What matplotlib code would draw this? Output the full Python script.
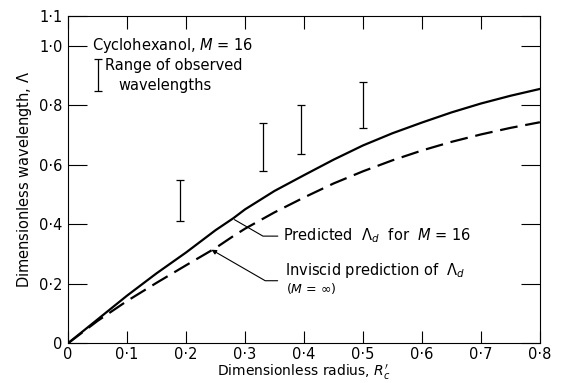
import numpy as np
import matplotlib.pyplot as plt

# values
r_curve = [0, 0.05, 0.1, 0.15, 0.2, 0.25, 0.28, 0.3, 0.35, 0.4, 0.45, 0.5,
           0.55, 0.6, 0.65, 0.7, 0.75, 0.8]
lam_pred = [0, 0.08, 0.16, 0.235, 0.305, 0.38, 0.42, 0.45, 0.512, 0.565, 0.617,
            0.665, 0.706, 0.742, 0.776, 0.806, 0.832, 0.855]
lam_invisc = [0, 0.075, 0.142, 0.203, 0.262, 0.32, 0.36, 0.385, 0.44, 0.49, 0.537,
              0.578, 0.615, 0.648, 0.677, 0.702, 0.724, 0.743]

r_obs = [0.19, 0.33, 0.395, 0.50]
lam_lo = [0.41, 0.578, 0.635, 0.723]
lam_hi = [0.548, 0.74, 0.80, 0.877]

xticks = [0, 0.1, 0.2, 0.3, 0.4, 0.5, 0.6, 0.7, 0.8]
xlabels = ['0', '0·1', '0·2', '0·3', '0·4', '0·5', '0·6', '0·7', '0·8']
yticks = [0, 0.2, 0.4, 0.6, 0.8, 1.0, 1.1]
ylabels = ['0', '0·2', '0·4', '0·6', '0·8', '1·0', '1·1']

plt.rcParams['font.family'] = 'DejaVu Sans'
plt.rcParams['mathtext.fontset'] = 'dejavusans'

fig = plt.figure(figsize=(5.63, 3.83), dpi=100)
ax = fig.add_axes([0.121, 0.104, 0.838, 0.854])

ax.plot(r_curve, lam_pred, color='black', lw=1.6)
ax.plot(r_curve, lam_invisc, color='black', lw=1.6, dashes=(8, 3.5))

mid = [(a + b) / 2 for a, b in zip(lam_lo, lam_hi)]
half = [(b - a) / 2 for a, b in zip(lam_lo, lam_hi)]
ax.errorbar(r_obs, mid, yerr=half, fmt='none', ecolor='black',
            elinewidth=0.9, capsize=3, capthick=0.9)

# legend-like error bar
ax.errorbar([0.05], [0.901], yerr=[0.054], fmt='none', ecolor='black',
            elinewidth=0.9, capsize=3, capthick=0.9)

ax.text(0.04, 1.0, r'Cyclohexanol, $M$ = 16', fontsize=10.5, va='center')
ax.text(0.062, 0.934, 'Range of observed', fontsize=10.5, va='center')
ax.text(0.085, 0.866, 'wavelengths', fontsize=10.5, va='center')

ax.annotate(r'Predicted  $\Lambda_d$  for  $M$ = 16', xy=(0.278, 0.42),
            xytext=(0.365, 0.36), fontsize=10.5, va='center',
            arrowprops=dict(arrowstyle='-', color='black', lw=0.8,
                            connectionstyle='angle,angleA=0,angleB=-30,rad=0'))
ax.text(0.368, 0.245, r'Inviscid prediction of  $\Lambda_d$', fontsize=10.5, va='center')
ax.annotate('', xy=(0.239, 0.319), xytext=(0.36, 0.21),
            arrowprops=dict(arrowstyle='-|>', color='black', lw=0.8, mutation_scale=7,
                            connectionstyle='angle,angleA=0,angleB=-30,rad=0'))
ax.text(0.37, 0.185, r'($M$ = $\infty$)', fontsize=9, va='center')

ax.set_xlim(0, 0.8)
ax.set_ylim(0, 1.1)
ax.set_xticks(xticks)
ax.set_xticklabels(xlabels, fontsize=10.5)
ax.set_yticks(yticks)
ax.set_yticklabels(ylabels, fontsize=10.5)
ax.tick_params(axis='x', direction='in', length=9, width=0.8, top=True, pad=3)
ax.tick_params(axis='y', direction='in', length=14, width=0.8, right=True, pad=4)
for sp in ax.spines.values():
    sp.set_linewidth(0.8)

ax.set_xlabel(r"Dimensionless radius, $R_c'$", fontsize=10, labelpad=0)
ax.set_ylabel(r'Dimensionless wavelength, $\Lambda$', fontsize=10.5, labelpad=4)

fig.savefig('out.png', dpi=100)
